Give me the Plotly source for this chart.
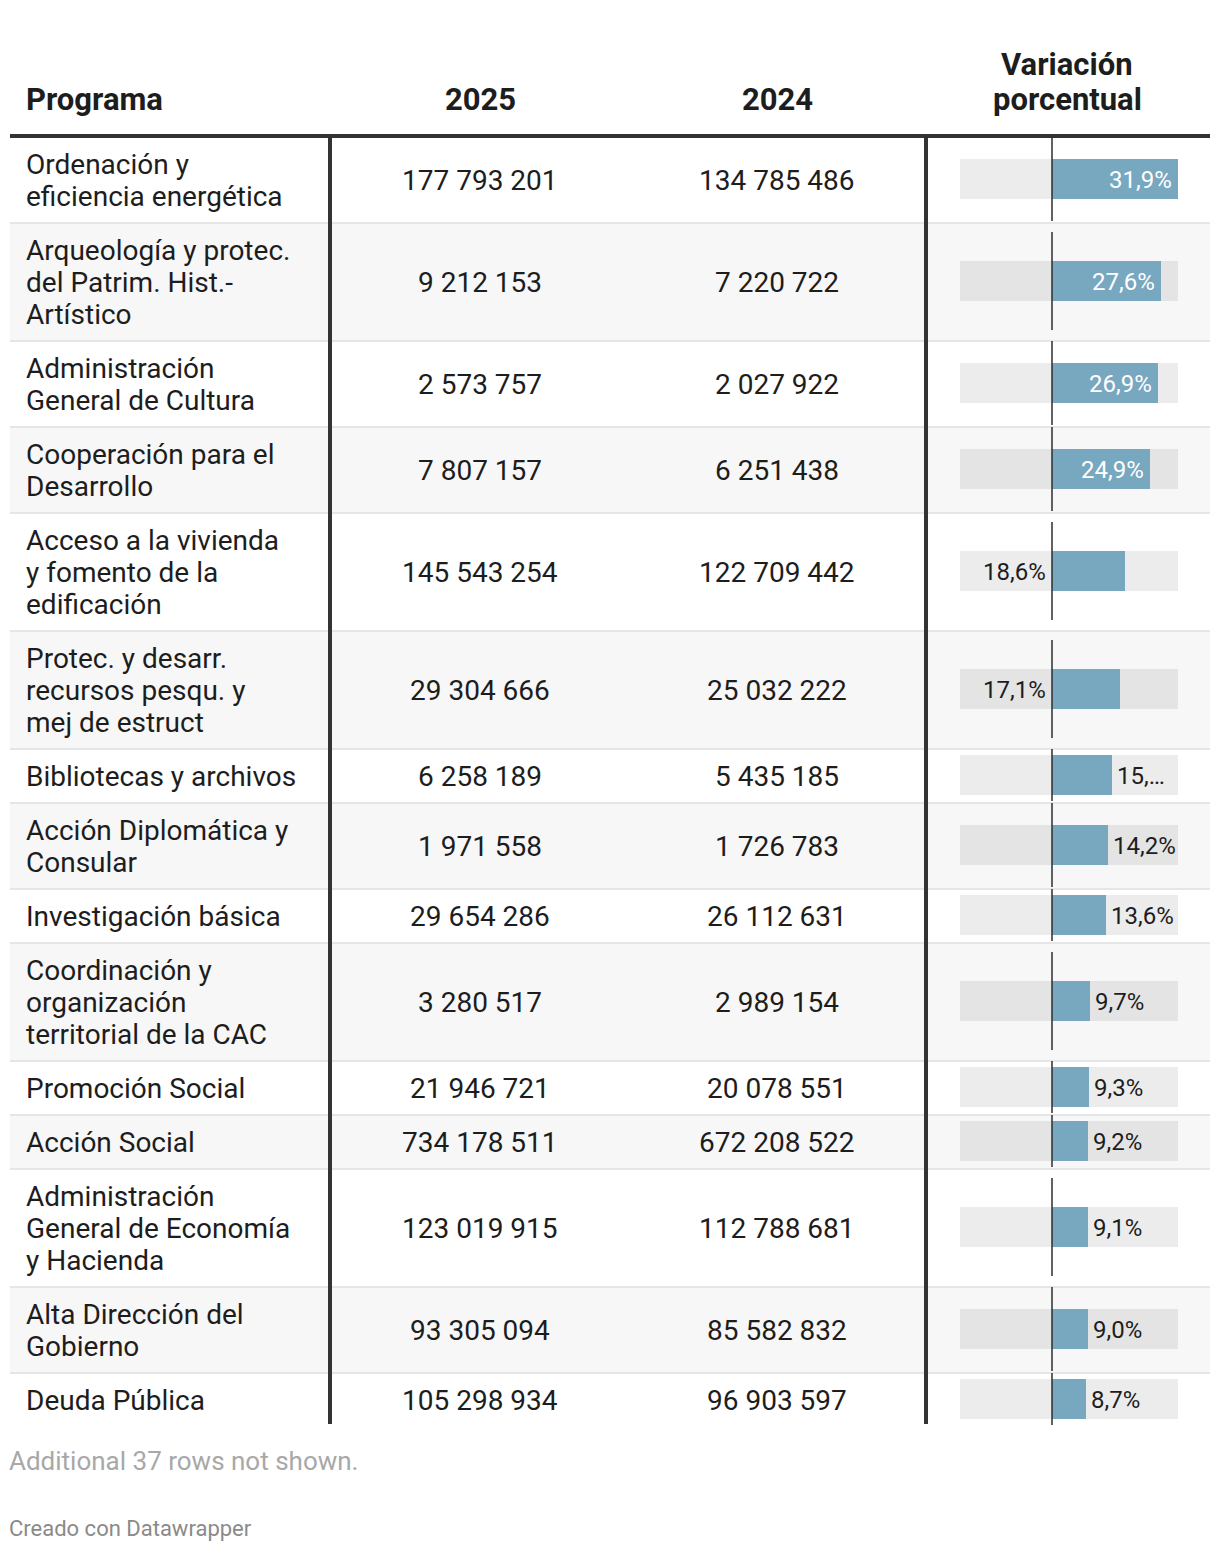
import plotly.graph_objects as go

PAGE_W, PAGE_H = 1220, 1552
BODY_MARGIN = 8          # default HTML body margin around the plot div
W, H = PAGE_W - 2 * BODY_MARGIN, PAGE_H - 2 * BODY_MARGIN

# ---------------- data ----------------
programas = [
    "Ordenación y\neficiencia energética",
    "Arqueología y protec.\ndel Patrim. Hist.-\nArtístico",
    "Administración\nGeneral de Cultura",
    "Cooperación para el\nDesarrollo",
    "Acceso a la vivienda\ny fomento de la\nedificación",
    "Protec. y desarr.\nrecursos pesqu. y\nmej de estruct",
    "Bibliotecas y archivos",
    "Acción Diplomática y\nConsular",
    "Investigación básica",
    "Coordinación y\norganización\nterritorial de la CAC",
    "Promoción Social",
    "Acción Social",
    "Administración\nGeneral de Economía\ny Hacienda",
    "Alta Dirección del\nGobierno",
    "Deuda Pública",
]
valores_2025 = [177793201, 9212153, 2573757, 7807157, 145543254, 29304666, 6258189,
                1971558, 29654286, 3280517, 21946721, 734178511, 123019915, 93305094,
                105298934]
valores_2024 = [134785486, 7220722, 2027922, 6251438, 122709442, 25032222, 5435185,
                1726783, 26112631, 2989154, 20078551, 672208522, 112788681, 85582832,
                96903597]
variacion = [31.9, 27.6, 26.9, 24.9, 18.6, 17.1, 15.1, 14.2, 13.6, 9.7, 9.3, 9.2,
             9.1, 9.0, 8.7]
etiquetas = ["31,9%", "27,6%", "26,9%", "24,9%", "18,6%", "17,1%", "15,…", "14,2%",
             "13,6%", "9,7%", "9,3%", "9,2%", "9,1%", "9,0%", "8,7%"]
var_min = -23.3  # lowest variation across the full (partly hidden) table
cabeceras = ["Programa", "2025", "2024", "Variación\nporcentual"]
nota = "Additional 37 rows not shown."
credito = "Creado con Datawrapper"

# ---------------- layout constants (page pixels) ----------------
FONT = "Roboto"
TXT = "#1d1d1d"
X_LEFT, X_RIGHT = 10, 1210
X_DIV1, X_DIV2 = 330, 926
X_TXT = 27
X_C2025, X_C2024, X_CVAR = 480, 777, 1067
BAR_X0, BAR_X1 = 960, 1178
HEADER_LINE_Y = 136
LINE_H = 32
ROW_PAD = 22
BODY_SIZE = 28
HEAD_SIZE = 31
LAB_SIZE = 24
BAR_H = 40
BAR_COLOR = "#78a7c0"
TEXT_PAD = 3     # annotation inner padding
TEXT_DY = 1.5    # baseline nudge for body text


def fmt(n):
    return f"{n:,}".replace(",", " ")


def px(x):
    return (x - BODY_MARGIN) / W


shapes = []
annotations = []

# rows geometry
lines = [p.split("\n") for p in programas]
tops, centers, heights = [], [], []
y = HEADER_LINE_Y
for ln in lines:
    h = ROW_PAD + LINE_H * len(ln)
    tops.append(y)
    heights.append(h)
    centers.append(y + h / 2)
    y += h
table_bottom = y

# row backgrounds + separators
for i, (t, h) in enumerate(zip(tops, heights)):
    if i % 2 == 1:
        shapes.append(dict(type="rect", xref="paper", yref="y", x0=px(X_LEFT), x1=px(X_RIGHT),
                           y0=t, y1=t + h, fillcolor="#f7f7f7", line_width=0, layer="below"))
    if i > 0:
        shapes.append(dict(type="rect", xref="paper", yref="y", x0=px(X_LEFT), x1=px(X_RIGHT),
                           y0=t, y1=t + 2, fillcolor="#e6e6e6", line_width=0, layer="below"))

# header thick line & vertical dividers
shapes.append(dict(type="rect", xref="paper", yref="y", x0=px(X_LEFT), x1=px(X_RIGHT),
                   y0=HEADER_LINE_Y - 2, y1=HEADER_LINE_Y + 2, fillcolor="#333333",
                   line_width=0, layer="above"))
for xd in (X_DIV1, X_DIV2):
    shapes.append(dict(type="rect", xref="paper", yref="y", x0=px(xd - 2), x1=px(xd + 2),
                       y0=HEADER_LINE_Y - 2, y1=table_bottom - 2, fillcolor="#333333",
                       line_width=0, layer="above"))

# zero lines per row
for c, h in zip(centers, heights):
    span = min(h, 100)
    shapes.append(dict(type="line", xref="x", yref="y", x0=0, x1=0,
                       y0=c - span / 2 + 1, y1=c + span / 2 - 1,
                       line=dict(color="rgba(45,45,45,0.75)", width=2), layer="above"))

# header texts
HEAD_Y = 99
HEAD_LH = 35
head_x = [(X_TXT - TEXT_PAD, "left"), (X_C2025, "center"), (X_C2024, "center"), (X_CVAR, "center")]
for text, (hx, anc) in zip(cabeceras, head_x):
    parts = text.split("\n")
    n = len(parts)
    for j, part in enumerate(parts):
        annotations.append(dict(xref="paper", yref="y", x=px(hx), y=HEAD_Y - (n - 1 - j) * HEAD_LH,
                                text=f"<b>{part}</b>", showarrow=False, xanchor=anc,
                                yanchor="middle", font=dict(family=FONT, size=HEAD_SIZE, color=TXT)))

# body texts
for ln, c, v25, v24 in zip(lines, centers, valores_2025, valores_2024):
    n = len(ln)
    for j, part in enumerate(ln):
        annotations.append(dict(xref="paper", yref="y", x=px(X_TXT - TEXT_PAD),
                                y=c + (j - (n - 1) / 2) * LINE_H + TEXT_DY,
                                text=part, showarrow=False, xanchor="left", yanchor="middle",
                                font=dict(family=FONT, size=BODY_SIZE, color=TXT)))
    for val, xc in ((v25, X_C2025), (v24, X_C2024)):
        annotations.append(dict(xref="paper", yref="y", x=px(xc), y=c + TEXT_DY, text=fmt(val),
                                showarrow=False, xanchor="center", yanchor="middle",
                                font=dict(family=FONT, size=BODY_SIZE, color=TXT)))

# bar labels
var_max = max(variacion)
for v, lab, c in zip(variacion, etiquetas, centers):
    if v >= 20:
        a = dict(x=v, xanchor="right", xshift=-4, color="white")
    elif v >= 16:
        a = dict(x=0, xanchor="right", xshift=-4, color=TXT)
    else:
        a = dict(x=v, xanchor="left", xshift=3, color=TXT)
    annotations.append(dict(xref="x", yref="y", x=a["x"], y=c + 1, text=lab, showarrow=False,
                            xanchor=a["xanchor"], xshift=a["xshift"], yanchor="middle",
                            font=dict(family=FONT, size=LAB_SIZE, color=a["color"])))

# footer
annotations.append(dict(xref="paper", yref="y", x=px(X_LEFT - TEXT_PAD), y=1461, text=nota,
                        showarrow=False, xanchor="left", yanchor="middle",
                        font=dict(family=FONT, size=26, color="#a8a8a8")))
annotations.append(dict(xref="paper", yref="y", x=px(X_LEFT - TEXT_PAD), y=1528, text=credito,
                        showarrow=False, xanchor="left", yanchor="middle",
                        font=dict(family=FONT, size=22, color="#8a8a8a")))

fig = go.Figure()
# background tracks (full scale range)
fig.add_trace(go.Bar(orientation="h", y=centers, x=[var_max - var_min] * len(variacion),
                     base=var_min, width=BAR_H, marker=dict(color="rgba(0,0,0,0.075)", line_width=0),
                     hoverinfo="skip", showlegend=False))
fig.add_trace(go.Bar(orientation="h", y=centers, x=variacion, base=0, width=BAR_H,
                     marker=dict(color=BAR_COLOR, line_width=0), showlegend=False,
                     hovertemplate="%{x}%<extra></extra>"))

fig.update_layout(
    width=W, height=H, autosize=False,
    margin=dict(l=0, r=0, t=0, b=0),
    paper_bgcolor="white", plot_bgcolor="rgba(0,0,0,0)",
    barmode="overlay", bargap=0,
    xaxis=dict(domain=[px(BAR_X0), px(BAR_X1)], range=[var_min, var_max], visible=False,
               fixedrange=True),
    yaxis=dict(domain=[0, 1], range=[BODY_MARGIN + H, BODY_MARGIN], visible=False,
               fixedrange=True),
    shapes=shapes, annotations=annotations, showlegend=False,
)

fig.write_html("out.html")
